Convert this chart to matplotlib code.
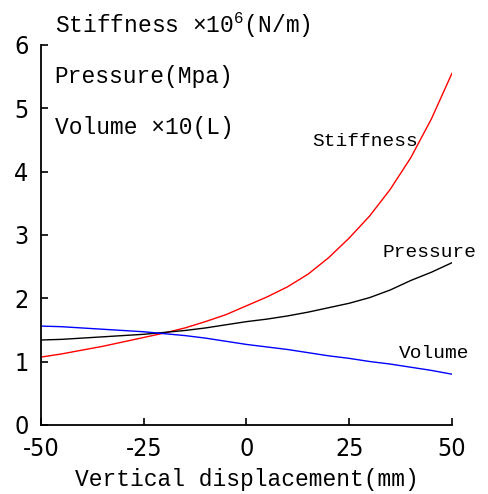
"""Stiffness, pressure and volume against vertical displacement."""
import matplotlib
matplotlib.use('Agg')
import matplotlib.pyplot as plt
from matplotlib import font_manager

# Data
displacement = [-50, -45, -40, -35, -30, -25, -20, -15, -10, -5, 0,
                5, 10, 15, 20, 25, 30, 35, 40, 45, 50]
stiffness = [1.07, 1.12, 1.18, 1.24, 1.31, 1.38, 1.45, 1.53, 1.63, 1.74, 1.88,
             2.02, 2.18, 2.38, 2.64, 2.95, 3.30, 3.72, 4.22, 4.83, 5.55]
pressure = [1.34, 1.35, 1.37, 1.39, 1.41, 1.43, 1.46, 1.49, 1.53, 1.58, 1.63,
            1.67, 1.72, 1.78, 1.85, 1.92, 2.01, 2.13, 2.28, 2.41, 2.56]
volume = [1.56, 1.55, 1.53, 1.51, 1.49, 1.47, 1.44, 1.41, 1.37, 1.32, 1.27,
          1.23, 1.19, 1.14, 1.09, 1.05, 1.00, 0.96, 0.91, 0.86, 0.80]
x_ticks = [-50, -25, 0, 25, 50]
y_ticks = [0, 1, 2, 3, 4, 5, 6]

mono = 'Liberation Mono'
plt.rcParams['mathtext.fontset'] = 'custom'
plt.rcParams['mathtext.rm'] = mono

# Narrow face for tick numbers, if one is installed
tick_prop = font_manager.FontProperties(family='DejaVu Sans', size=17)
names = {f.name for f in font_manager.fontManager.ttflist}
condensed = [f for f in font_manager.fontManager.ttflist
             if 'Condensed' in f.fname and 'Sans' in f.fname
             and 'Bold' not in f.fname and 'Oblique' not in f.fname
             and 'Mono' not in f.fname]
if 'Liberation Sans Narrow' in names:
    tick_prop = font_manager.FontProperties(family='Liberation Sans Narrow',
                                            size=19)
elif condensed:
    tick_prop = font_manager.FontProperties(fname=condensed[0].fname, size=18)

fig = plt.figure(figsize=(4.88, 4.94), dpi=100)
ax = fig.add_axes([0.084, 0.140, 0.842, 0.769])

# Curves
ax.plot(displacement, stiffness, color='#ff0000', lw=1.0)
ax.plot(displacement, pressure, color='black', lw=1.0)
ax.plot(displacement, volume, color='#0000ff', lw=1.0)

ax.set_xlim(-50, 50)
ax.set_ylim(0, 6)
ax.set_xticks(x_ticks)
ax.set_yticks(y_ticks)
ax.set_xticklabels([str(t) for t in x_ticks], fontproperties=tick_prop)
ax.set_yticklabels([str(t) for t in y_ticks], fontproperties=tick_prop)
ax.tick_params(direction='in', length=5, width=1.2)
ax.tick_params(axis='y', pad=9)
ax.tick_params(axis='x', pad=9)

for side in ['top', 'right']:
    ax.spines[side].set_visible(False)
for side in ['left', 'bottom']:
    ax.spines[side].set_linewidth(1.3)

ax.set_xlabel('Vertical displacement(mm)', family=mono, fontsize=16.5,
              labelpad=5)

# Quantity labels at upper left
fig.text(0.112, 0.949, 'Stiffness \u00d710$^\\mathregular{6}$(N/m)',
         family=mono, fontsize=16.5, va='center')
fig.text(0.112, 0.845, 'Pressure(Mpa)', family=mono, fontsize=16.5,
         va='center')
fig.text(0.112, 0.741, 'Volume \u00d710(L)', family=mono, fontsize=16.5,
         va='center')

# Curve names
ax.text(16, 4.47, 'Stiffness', family=mono, fontsize=14, va='center')
ax.text(33, 2.72, 'Pressure', family=mono, fontsize=14, va='center')
ax.text(37, 1.12, 'Volume', family=mono, fontsize=14, va='center')

fig.savefig('out.png', dpi=100)
